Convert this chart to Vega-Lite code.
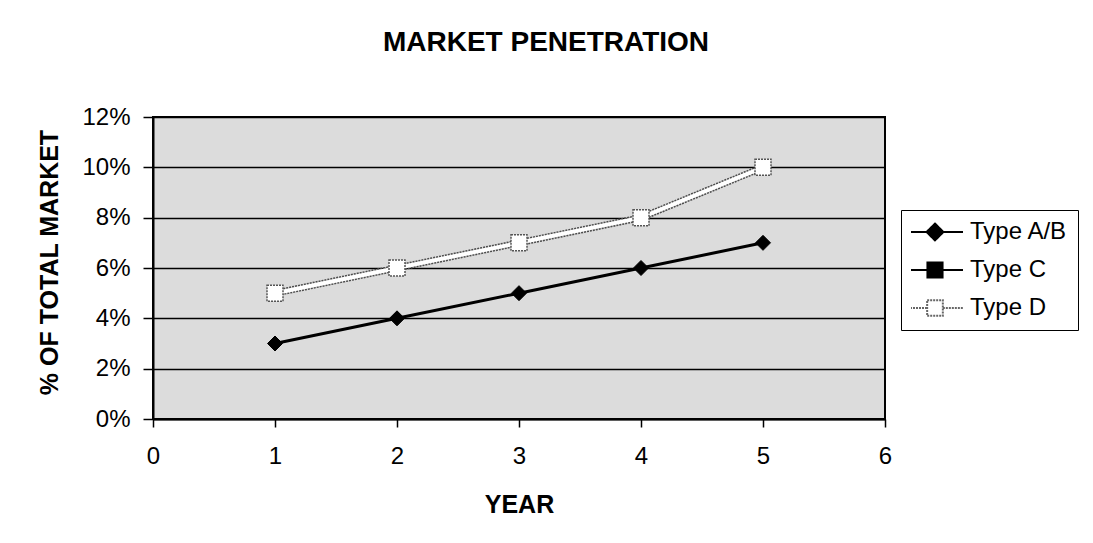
{
  "$schema": "https://vega.github.io/schema/vega-lite/v6.json",
  "width": 732,
  "height": 302,
  "autosize": {"type": "none"},
  "padding": {"left": 153, "top": 117, "right": 208, "bottom": 124},
  "background": "white",
  "config": {
    "font": "Liberation Sans",
    "view": {"fill": "#dcdcdc", "stroke": "black", "strokeWidth": 2}
  },
  "title": {
    "text": "MARKET PENETRATION",
    "fontSize": 28,
    "fontWeight": "bold",
    "color": "black",
    "anchor": "middle",
    "frame": "group",
    "baseline": "alphabetic",
    "offset": 26,
    "dx": 27
  },
  "data": {
    "values": [
      {"year": 1, "pct": 0.03, "series": "Type A/B"},
      {"year": 2, "pct": 0.04, "series": "Type A/B"},
      {"year": 3, "pct": 0.05, "series": "Type A/B"},
      {"year": 4, "pct": 0.06, "series": "Type A/B"},
      {"year": 5, "pct": 0.07, "series": "Type A/B"},
      {"year": 1, "pct": 0.05, "series": "Type D"},
      {"year": 2, "pct": 0.06, "series": "Type D"},
      {"year": 3, "pct": 0.07, "series": "Type D"},
      {"year": 4, "pct": 0.08, "series": "Type D"},
      {"year": 5, "pct": 0.10, "series": "Type D"}
    ]
  },
  "encoding": {
    "x": {
      "field": "year",
      "type": "quantitative",
      "scale": {"domain": [0, 6], "nice": false, "zero": false},
      "axis": {
        "values": [0, 1, 2, 3, 4, 5, 6],
        "format": "d",
        "grid": false,
        "labelFlush": false,
        "domainColor": "black",
        "domainWidth": 2,
        "tickColor": "black",
        "tickWidth": 1.5,
        "tickSize": 8,
        "labelFontSize": 24,
        "labelColor": "black",
        "labelPadding": 17,
        "title": "YEAR",
        "titleFontSize": 25,
        "titleFontWeight": "bold",
        "titleColor": "black",
        "titleBaseline": "alphabetic",
        "titleY": 93
      }
    },
    "y": {
      "field": "pct",
      "type": "quantitative",
      "scale": {"domain": [0, 0.12], "nice": false},
      "axis": {
        "values": [0, 0.02, 0.04, 0.06, 0.08, 0.1, 0.12],
        "format": ".0%",
        "grid": true,
        "labelFlush": false,
        "gridColor": "black",
        "gridWidth": 1.5,
        "gridOpacity": 1,
        "domainColor": "black",
        "domainWidth": 2,
        "tickColor": "black",
        "tickWidth": 1.5,
        "tickSize": 10,
        "labelFontSize": 24,
        "labelColor": "black",
        "labelPadding": 13,
        "title": "% OF TOTAL MARKET",
        "titleFontSize": 25,
        "titleFontWeight": "bold",
        "titleColor": "black",
        "titleBaseline": "alphabetic",
        "titleX": -96,
        "titleY": 145
      }
    }
  },
  "layer": [
    {
      "transform": [{"filter": "datum.series === 'Type D'"}],
      "mark": {"type": "line", "stroke": "#4d4d4d", "strokeWidth": 7, "strokeDash": [2, 1]}
    },
    {
      "transform": [{"filter": "datum.series === 'Type D'"}],
      "mark": {"type": "line", "stroke": "white", "strokeWidth": 4}
    },
    {
      "transform": [{"filter": "datum.series === 'Type A/B'"}],
      "mark": {"type": "line", "stroke": "black", "strokeWidth": 3}
    },
    {
      "transform": [{"filter": "datum.series === 'Type D'"}],
      "mark": {"type": "point", "shape": "square", "size": 256, "filled": true, "fill": "white", "stroke": "#555555", "strokeWidth": 1.5, "strokeDash": [2, 1], "opacity": 1}
    },
    {
      "transform": [{"filter": "datum.series === 'Type A/B'"}],
      "mark": {"type": "point", "shape": "diamond", "size": 225, "filled": true, "fill": "black", "stroke": "black", "strokeWidth": 1, "opacity": 1}
    },
    {
      "mark": {"type": "point", "opacity": 0, "size": 10},
      "encoding": {
        "shape": {
          "field": "series",
          "type": "nominal",
          "scale": {
            "domain": ["Type A/B", "Type C", "Type D"],
            "range": [
              "M-1,0H1M0,-0.3L0.3,0L0,0.3L-0.3,0Z",
              "M-1,0H1M-0.27,-0.27H0.27V0.27H-0.27Z",
              "M-1,0H-0.28M0.28,0H1M-0.28,-0.28H0.28V0.28H-0.28Z"
            ]
          },
          "legend": {
            "title": null,
            "orient": "none",
            "legendX": 748,
            "legendY": 93,
            "padding": 10,
            "strokeColor": "black",
            "fillColor": "white",
            "symbolSize": 3136,
            "symbolStrokeWidth": 2,
            "symbolOpacity": 1,
            "symbolOffset": -5,
            "clipHeight": 24,
            "labelFontSize": 24,
            "labelColor": "black",
            "labelOffset": 6,
            "rowPadding": 14,
            "labelLimit": 300
          }
        },
        "fill": {
          "field": "series",
          "type": "nominal",
          "scale": {"domain": ["Type A/B", "Type C", "Type D"], "range": ["black", "black", "white"]},
          "legend": {"title": null}
        },
        "stroke": {
          "field": "series",
          "type": "nominal",
          "scale": {"domain": ["Type A/B", "Type C", "Type D"], "range": ["black", "black", "#666666"]},
          "legend": {"title": null}
        },
        "strokeDash": {
          "field": "series",
          "type": "nominal",
          "scale": {"domain": ["Type A/B", "Type C", "Type D"], "range": [[1, 0], [1, 0], [2, 1]]},
          "legend": {"title": null}
        }
      }
    }
  ]
}
